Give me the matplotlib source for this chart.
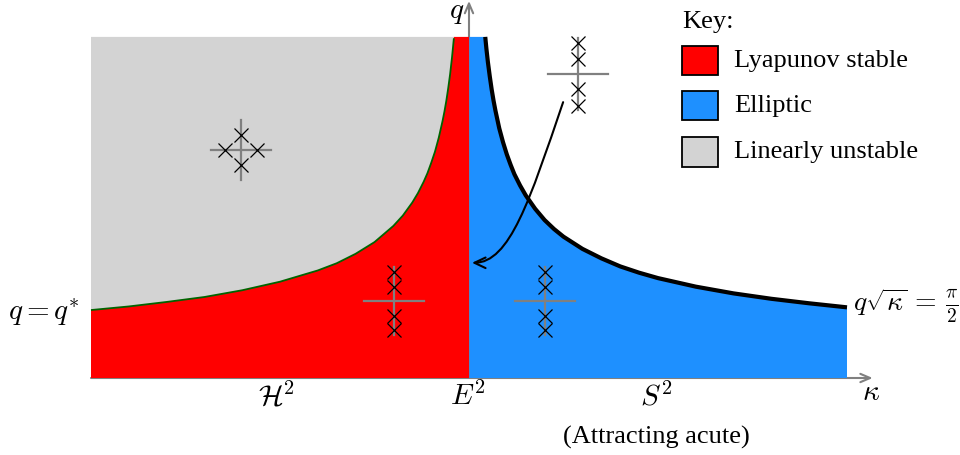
import matplotlib
matplotlib.use("Agg")
import matplotlib.pyplot as plt
from matplotlib.patches import Polygon, Rectangle, FancyArrowPatch
from matplotlib.path import Path

plt.rcParams['font.family'] = ['Liberation Serif', 'DejaVu Serif']
plt.rcParams['mathtext.fontset'] = 'cm'

# ---- data ----
q_top = 7.58
# left boundary (Lyapunov stable / linearly unstable), kappa < 0
kappa_left = [-1.0, -0.9, -0.8, -0.7, -0.6, -0.5, -0.4, -0.35, -0.3, -0.25,
              -0.2, -0.175, -0.15, -0.135, -0.12, -0.11, -0.1, -0.09, -0.08,
              -0.07, -0.065, -0.06, -0.055, -0.05, -0.045, -0.04]
q_left = [1.51, 1.59, 1.69, 1.80, 1.95, 2.14, 2.39, 2.55, 2.76, 3.02,
          3.38, 3.61, 3.90, 4.11, 4.36, 4.55, 4.78, 5.03, 5.34,
          5.71, 5.92, 6.16, 6.44, 6.75, 7.12, 7.55]
# right boundary q*sqrt(kappa) = pi/2, kappa > 0
kappa_right = [0.043, 0.046, 0.05, 0.055, 0.06, 0.065, 0.07, 0.08, 0.09, 0.1,
               0.11, 0.12, 0.135, 0.15, 0.175, 0.2, 0.225, 0.25, 0.3, 0.35,
               0.4, 0.45, 0.5, 0.6, 0.7, 0.8, 0.9, 1.0]
q_right = [7.58, 7.32, 7.02, 6.70, 6.41, 6.16, 5.94, 5.55, 5.24, 4.97,
           4.74, 4.53, 4.28, 4.06, 3.76, 3.51, 3.31, 3.14, 2.87, 2.66,
           2.48, 2.34, 2.22, 2.03, 1.88, 1.76, 1.66, 1.57]

# eigenvalue sketches: centre and cross positions
grp_unstable_c = (-0.603, 5.07)
grp_unstable_k = [-0.603, -0.603, -0.646, -0.560]
grp_unstable_q = [5.40, 4.73, 5.07, 5.07]

grp_cross_q = [2.36, 2.02, 1.38, 1.07]
grp_red_c = (-0.198, 1.71)
grp_blue_c = (0.201, 1.71)
grp_out_c = (0.288, 6.76)
grp_out_q = [7.44, 7.09, 6.42, 6.04]

# curved annotation arrow (start, two control points, end)
arrow_k = [0.249, 0.161, 0.108, 0.008]
arrow_q = [6.13, 3.96, 2.56, 2.56]

legend_labels = ["Lyapunov stable", "Elliptic", "Linearly unstable"]
legend_colors = ["#ff0000", "#1e90ff", "#d3d3d3"]

RED, BLUE, GRAY = legend_colors
AXC = "#808080"

fig = plt.figure(figsize=(9.6, 4.55), dpi=100)
ax = fig.add_axes([0, 0, 1, 1])
ax.set_xlim(-469 / 378, (960 - 469) / 378)
ax.set_ylim((378 - 455) / 45, 378 / 45)
ax.axis('off')

# axes (arrows)
ax.annotate("", xy=(1.068, 0), xytext=(-1.0, 0),
            arrowprops=dict(arrowstyle="->,head_length=0.7,head_width=0.3",
                            color=AXC, lw=1.5, shrinkA=0, shrinkB=0), zorder=1)
ax.annotate("", xy=(0, 8.38), xytext=(0, 0),
            arrowprops=dict(arrowstyle="->,head_length=0.7,head_width=0.3",
                            color=AXC, lw=1.5, shrinkA=0, shrinkB=0), zorder=1)

# regions
gray_poly = [(-1.0, q_top)] + list(zip(kappa_left, q_left)) + [(kappa_left[-1], q_top)]
ax.add_patch(Polygon(gray_poly, closed=True, facecolor=GRAY, edgecolor='none', zorder=2))
red_poly = [(-1.0, 0)] + list(zip(kappa_left, q_left)) + [(kappa_left[-1], q_top), (0, q_top), (0, 0)]
ax.add_patch(Polygon(red_poly, closed=True, facecolor=RED, edgecolor='none', zorder=2))
blue_poly = [(0, 0), (0, q_top)] + list(zip(kappa_right, q_right)) + [(kappa_right[-1], 0)]
ax.add_patch(Polygon(blue_poly, closed=True, facecolor=BLUE, edgecolor='none', zorder=2))
ax.plot([0, 0], [0, q_top], color=AXC, lw=0.6, alpha=0.5, zorder=3)

# boundaries
ax.plot(kappa_left, q_left, color="#006400", lw=1.3, zorder=4, solid_capstyle='butt')
ax.plot(kappa_right, q_right, color="black", lw=3.0, zorder=4, solid_capstyle='butt')

# eigenvalue sketches
def crosshair(c, hk=0.079, hq=0.70):
    ax.plot([c[0] - hk, c[0] + hk], [c[1], c[1]], color=AXC, lw=1.6, zorder=5)
    ax.plot([c[0], c[0]], [c[1] - hq, c[1] + hq], color=AXC, lw=1.6, zorder=5)

mk = dict(marker='x', ls='none', color='black', ms=10, mew=0.9, zorder=6)
crosshair(grp_unstable_c, hq=0.67)
ax.plot(grp_unstable_k, grp_unstable_q, **mk)
crosshair(grp_red_c, hq=0.76)
ax.plot([grp_red_c[0]] * 4, grp_cross_q, **mk)
crosshair(grp_blue_c, hq=0.76)
ax.plot([grp_blue_c[0]] * 4, grp_cross_q, **mk)
crosshair(grp_out_c, hq=0.80)
ax.plot([grp_out_c[0]] * 4, grp_out_q, **mk)

# curved arrow
arrow_path = Path(list(zip(arrow_k, arrow_q)),
                  [Path.MOVETO, Path.CURVE4, Path.CURVE4, Path.CURVE4])
arr = FancyArrowPatch(path=arrow_path,
                      arrowstyle="->,head_length=8,head_width=3.8",
                      color='black', lw=1.5, zorder=7)
ax.add_patch(arr)

# labels
ax.text(-0.032, 8.10, r"$q$", fontsize=21, ha='center', va='center')
ax.text(1.063, -0.33, r"$\kappa$", fontsize=21, ha='center', va='center')
ax.text(-1.029, 1.45, r"$q = q^{*}$", fontsize=21, ha='right', va='center')
ax.text(1.015, 1.6, r"$q\sqrt{\kappa}\,=\,\frac{\pi}{2}$", fontsize=20, ha='left', va='center')
ax.text(-0.508, -0.42, r"$\mathcal{H}^2$", fontsize=21, ha='center', va='center')
ax.text(-0.004, -0.42, r"$E^2$", fontsize=21, ha='center', va='center')
ax.text(0.495, -0.42, r"$S^2$", fontsize=21, ha='center', va='center')
ax.text(0.495, -1.32, "(Attracting acute)", fontsize=19, ha='center', va='center')

# key
kx0 = (682 - 469) / 378
kw = 36 / 378
kh = 29 / 45
ax.text(kx0, (378 - 22) / 45, "Key:", fontsize=19, ha='left', va='center')
ys = [61, 106, 152]
for lab, col, y in zip(legend_labels, legend_colors, ys):
    qy = (378 - y) / 45
    ax.add_patch(Rectangle((kx0, qy - kh / 2), kw, kh, facecolor=col,
                           edgecolor='black', lw=1.3, zorder=8))
    ax.text((734 - 469) / 378, qy, lab, fontsize=19, ha='left', va='center')

fig.savefig("out.png", dpi=100)
